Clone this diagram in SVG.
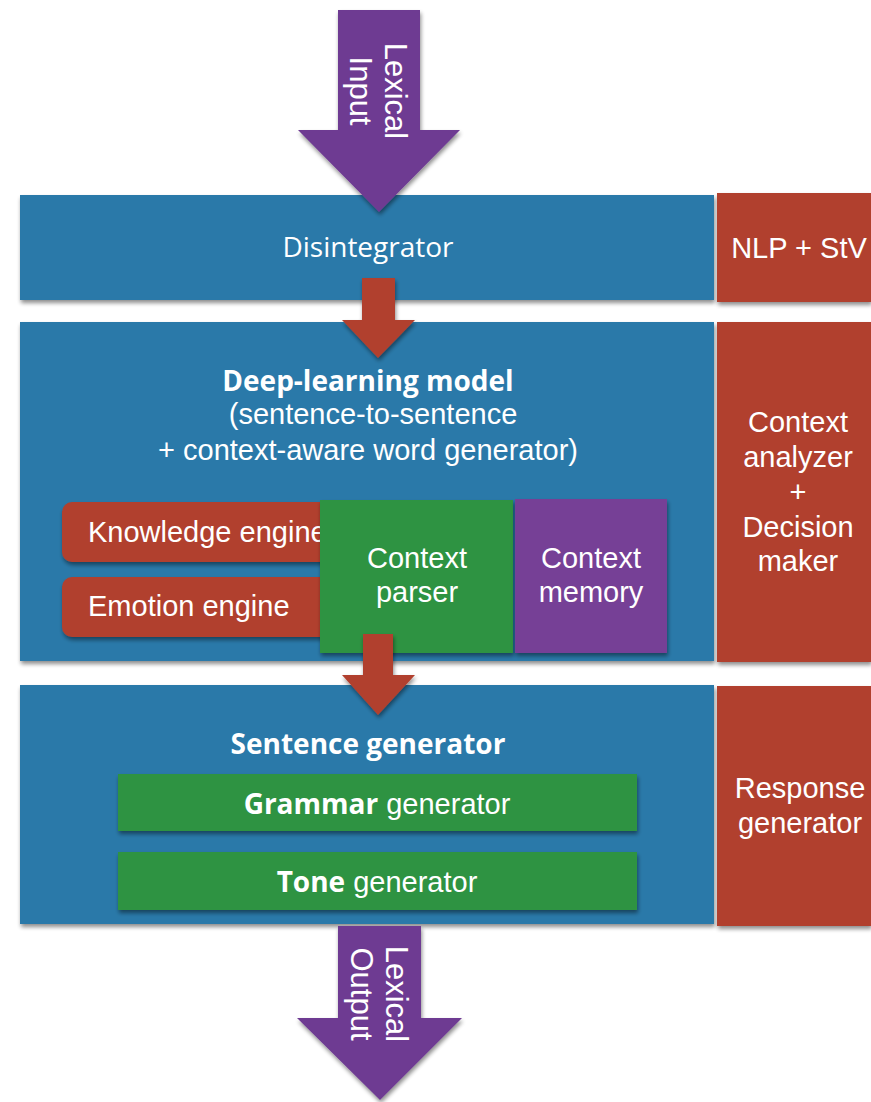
<svg xmlns="http://www.w3.org/2000/svg" width="871" height="1102" viewBox="0 0 871 1102">
<style>
.blue{fill:#2b79a9}
.red{fill:#b1402e}
.green{fill:#2e9343}
.purple{fill:#6e3b92}
.sh{filter:url(#shadow)}
.t{font-family:"Liberation Sans",Arial,sans-serif;fill:#ffffff;font-size:29px;text-anchor:middle}
.o{font-family:"Open Sans","Noto Sans",sans-serif;fill:#ffffff;font-size:28px;text-anchor:middle}
.b{font-weight:bold}
.v{font-size:31px}
</style>
<defs>
<filter id="shadow" x="-10%" y="-10%" width="120%" height="130%">
<feGaussianBlur in="SourceAlpha" stdDeviation="2"/>
<feOffset dx="1" dy="3" result="o"/>
<feComponentTransfer><feFuncA type="linear" slope="0.45"/></feComponentTransfer>
<feMerge><feMergeNode/><feMergeNode in="SourceGraphic"/></feMerge>
</filter>
</defs>
<rect width="871" height="1102" fill="#ffffff"/>

<g id="disintegrator">
<rect class="blue sh" x="20" y="195" width="694" height="105"/>
<text class="o" x="368" y="257">Disintegrator</text>
</g>
<g id="nlp-stv">
<rect class="red sh" x="717" y="193" width="154" height="109"/>
<text class="t" x="799" y="258">NLP + StV</text>
</g>

<g id="deep-learning-model">
<rect class="blue sh" x="20" y="322" width="694" height="339"/>
<text class="o b" x="368" y="391">Deep-learning model</text>
<text class="t" x="373" y="424">(sentence-to-sentence</text>
<text class="t" x="368" y="460">+ context-aware word generator)</text>
</g>
<g id="context-analyzer">
<rect class="red sh" x="717" y="322" width="154" height="340"/>
<text class="t" x="798" y="432">Context</text>
<text class="t" x="798" y="467">analyzer</text>
<text class="t" x="798" y="502">+</text>
<text class="t" x="798" y="537">Decision</text>
<text class="t" x="798" y="571">maker</text>
</g>
<g id="knowledge-engine">
<rect class="red sh" x="62" y="502" width="280" height="60" rx="10"/>
<text class="t" x="88" y="542" style="text-anchor:start">Knowledge engine</text>
</g>
<g id="emotion-engine">
<rect class="red sh" x="62" y="577" width="280" height="60" rx="10"/>
<text class="t" x="88" y="616" style="text-anchor:start">Emotion engine</text>
</g>
<g id="context-parser">
<rect class="green sh" x="320" y="500" width="193" height="153"/>
<text class="t" x="417" y="568">Context</text>
<text class="t" x="417" y="602">parser</text>
</g>
<g id="context-memory">
<rect class="purple sh" x="515" y="499" width="152" height="154" style="fill:#763f96"/>
<text class="t" x="591" y="568">Context</text>
<text class="t" x="591" y="602">memory</text>
</g>

<g id="sentence-generator">
<rect class="blue sh" x="20" y="685" width="694" height="239"/>
<text class="o b" x="368" y="754">Sentence generator</text>
</g>
<g id="grammar-generator">
<rect class="green sh" x="118" y="774" width="519" height="57"/>
<text class="t" x="377" y="814"><tspan style="font-family:'Open Sans','Noto Sans',sans-serif;font-weight:bold;font-size:28px">Grammar</tspan> generator</text>
</g>
<g id="tone-generator">
<rect class="green sh" x="118" y="852" width="519" height="58"/>
<text class="t" x="377" y="892"><tspan style="font-family:'Open Sans','Noto Sans',sans-serif;font-weight:bold;font-size:28px">Tone</tspan> generator</text>
</g>
<g id="response-generator">
<rect class="red sh" x="717" y="686" width="154" height="240"/>
<text class="t" x="800" y="798">Response</text>
<text class="t" x="800" y="833">generator</text>
</g>

<g id="connectors">
<g id="lexical-input">
<polygon class="purple sh" points="338,10 420,10 420,130 460,130 379,212 298,130 338,130"/>
<text class="t v" transform="translate(385,91) rotate(90)">Lexical</text>
<text class="t v" transform="translate(350,91) rotate(90)">Input</text>
</g>
<polygon class="red sh" points="362,278 395,278 395,320 415,320 378,358 342,320 362,320"/>
<polygon class="red sh" points="363,634 393,634 393,675 415,675 378,715 342,675 363,675"/>
<g id="lexical-output">
<polygon class="purple sh" points="338,926 421,926 421,1018 462,1018 380,1100 297,1018 338,1018"/>
<text class="t v" transform="translate(386,994) rotate(90)">Lexical</text>
<text class="t v" transform="translate(351,994) rotate(90)">Output</text>
</g>
</g>
</svg>
